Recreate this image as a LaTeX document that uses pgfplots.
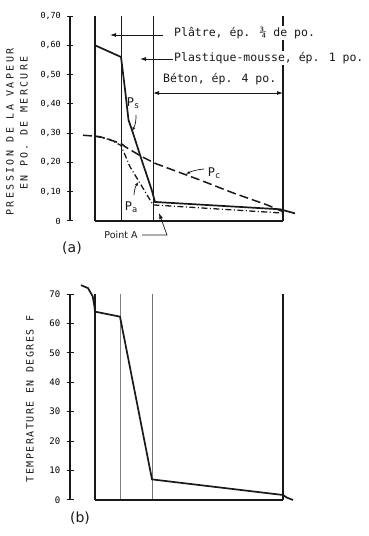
\documentclass[border=0pt]{standalone}
\usepackage{pgfplots}
\pgfplotsset{compat=1.18}
\usepackage{fontspec}
\usetikzlibrary{arrows.meta}
\setmainfont{DejaVu Sans}
\newfontfamily\mono{DejaVu Sans Mono}
\newfontfamily\monols[LetterSpace=24]{DejaVu Sans Mono}
\newfontfamily\monolsb[LetterSpace=15]{DejaVu Sans Mono}
\newfontfamily\sans{DejaVu Sans}
\definecolor{ink}{RGB}{25,25,25}
\begin{document}
\begin{tikzpicture}[x=1pt,y=1pt]
\useasboundingbox (0,0) rectangle (369,536);
% ---------------- (a) vapour pressure ----------------
\begin{axis}[
  at={(70pt,315pt)}, anchor=south west, scale only axis,
  width=230pt, height=205pt,
  xmin=70, xmax=300, ymin=0, ymax=0.70,
  hide x axis, axis y line*=left,
  y axis line style={-, line width=1.3pt, ink},
  ytick={0,0.1,0.2,0.3,0.4,0.5,0.6,0.7},
  yticklabels={0,{0,10},{0,20},{0,30},{0,40},{0,50},{0,60},{0,70}},
  tick align=center, major tick length=6pt,
  ytick style={line width=1pt, ink},
  yticklabel style={font=\mono\fontsize{8.4}{9}\selectfont, inner sep=1pt, xshift=-5pt},
  clip=false]
% axis spine
\addplot[ink, line width=2pt] coordinates {(70,0) (70,0.70)};
% walls
\addplot[ink, line width=1.2pt] coordinates {(95,0) (95,0.70)};
\addplot[ink, line width=0.9pt] coordinates {(121,0) (121,0.70)};
\addplot[ink, line width=0.9pt] coordinates {(153,0) (153,0.70)};
\addplot[ink, line width=1.2pt] coordinates {(283,0) (283,0.70)};
\addplot[ink, line width=1.2pt] coordinates {(95,0) (283,0)};
% Ps
\addplot[ink, line width=1.7pt] coordinates {
 (95,0.60) (121,0.56) (125,0.45) (128.5,0.345) (133,0.30) (141.7,0.208)
 (151.7,0.106) (155,0.065) (280,0.040) (295,0.026)};
% Pc
\addplot[ink, line width=1.5pt, dash pattern=on 9pt off 4pt] coordinates {
 (83,0.293) (100,0.288) (121,0.265) (125,0.254) (141.7,0.220) (155,0.197)
 (173,0.174) (200,0.140) (233,0.096) (267,0.055) (283,0.032)};
% Pa
\addplot[ink, line width=1.3pt, dash pattern=on 6pt off 2.5pt on 1pt off 2.5pt] coordinates {
 (95,0.290) (110,0.278) (121,0.258) (130,0.185) (140,0.129) (153,0.055) (283,0.027)};
\end{axis}
% ---------------- (b) temperature ----------------
\begin{axis}[
  at={(70pt,36pt)}, anchor=south west, scale only axis,
  width=230pt, height=206pt,
  xmin=70, xmax=300, ymin=0, ymax=70,
  hide x axis, axis y line*=left,
  y axis line style={-, line width=1.3pt, ink},
  ytick={0,10,20,30,40,50,60,70},
  tick align=center, major tick length=7pt,
  ytick style={line width=1pt, ink},
  yticklabels={0,10,20,30,40,50,60,70},
  yticklabel style={font=\mono\fontsize{9}{10}\selectfont, inner sep=1pt, xshift=-5pt},
  clip=false]
\addplot[ink, line width=2pt] coordinates {(70,0) (70,70)};
\addplot[ink, line width=1.3pt] coordinates {(95,0) (95,70)};
\addplot[gray, line width=0.8pt] coordinates {(120,0) (120,70)};
\addplot[gray!90!black, line width=0.8pt] coordinates {(152,0) (152,70)};
\addplot[ink, line width=1.3pt] coordinates {(283,0) (283,70)};
\addplot[ink, line width=1.2pt] coordinates {(95,0) (283,0)};
\addplot[ink, line width=1.7pt] coordinates {
 (81,73) (88,72) (92.7,69.2) (94.3,66) (95,64) (120,62.3) (152,7)
 (283,1.7) (287,0.8) (293,0)};
\end{axis}
% ---------------- axis spines (filled strips, drawn on top) ----------------
\fill[ink] (69.2,315) rectangle (71.2,520);
\fill[ink] (69.2,36) rectangle (71.2,242);
% ---------------- annotations ----------------
\node[font=\monols\fontsize{10}{10}\selectfont, rotate=90, text=ink] at (10,404) {PRESSION DE LA VAPEUR};
\node[font=\monols\fontsize{10}{10}\selectfont, rotate=90, text=ink] at (24,413) {EN PO. DE MERCURE};
\node[font=\monolsb\fontsize{10}{10}\selectfont, rotate=90, text=ink] at (30,137) {TEMPERATURE EN DEGRES F};
\draw[ink, line width=0.8pt, -{Latex[length=6pt,width=4pt]}] (163,501) -- (110,501);
\node[font=\mono\fontsize{11.5}{12}\selectfont, anchor=west, fill=white, inner sep=1pt, text=ink] at (173,503) {Plâtre, ép. ¾ de po.};
\draw[ink, line width=0.8pt, -{Latex[length=6pt,width=4pt]}] (174,477) -- (140,477);
\node[font=\mono\fontsize{11.5}{12}\selectfont, anchor=west, fill=white, inner sep=1pt, text=ink] at (173,478) {Plastique-mousse, ép. 1 po.};
\node[font=\mono\fontsize{11.5}{12}\selectfont, anchor=west, inner sep=1pt, text=ink] at (162,457) {Béton, ép. 4 po.};
\draw[ink, line width=0.8pt, {Latex[length=6pt,width=4pt]}-{Latex[length=6pt,width=4pt]}] (153,443) -- (283,443);
% curve labels
\node[font=\mono\fontsize{12}{12}\selectfont, text=ink] at (133,433) {P\raisebox{-0.35ex}{\fontsize{8.5}{9}\selectfont s}};
\draw[ink, line width=0.7pt, -{Latex[length=4pt,width=3pt]}] (136,421) to[bend left=15] (132,405);
\node[font=\mono\fontsize{12}{12}\selectfont, text=ink] at (214,363) {P\raisebox{-0.35ex}{\fontsize{8.5}{9}\selectfont c}};
\draw[ink, line width=0.7pt, -{Latex[length=4pt,width=3pt]}] (204,367) to[bend right=10] (186,362);
\node[font=\mono\fontsize{12}{12}\selectfont, text=ink] at (131,329) {P\raisebox{-0.35ex}{\fontsize{8.5}{9}\selectfont a}};
\draw[ink, line width=0.7pt, -{Latex[length=4pt,width=3pt]}] (134,341) to[bend left=15] (138.5,354);
\node[font=\sans\fontsize{9.5}{10}\selectfont, text=ink] at (121,301) {Point A};
\draw[ink, line width=0.7pt, -{Latex[length=6pt,width=4pt]}] (142,301) -- (167,301) -- (159,323);
\node[font=\sans\fontsize{14}{14}\selectfont, text=ink] at (72,288) {(a)};
\node[font=\sans\fontsize{14}{14}\selectfont, text=ink] at (80,18) {(b)};
\end{tikzpicture}
\end{document}
